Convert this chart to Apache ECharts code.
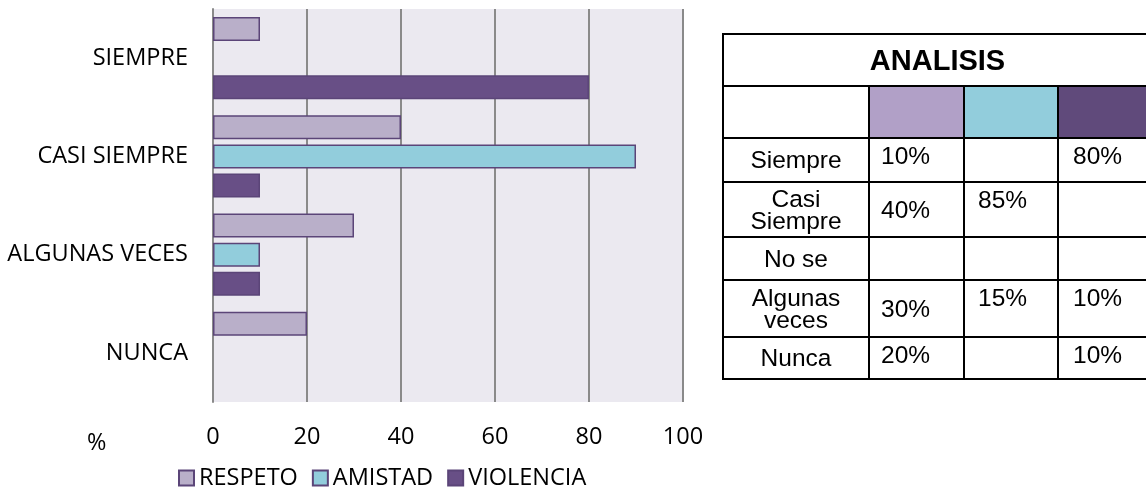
<!DOCTYPE html>
<html>
<head>
<meta charset="utf-8">
<script src="https://cdn.jsdelivr.net/npm/echarts@6/dist/echarts.min.js"></script>
<style>
  html, body { margin: 0; padding: 0; background: #fff; overflow: hidden; width: 1146px; height: 488px; }
  #chart { position: absolute; left: 0; top: 0; width: 1146px; height: 488px; }
  #tabla {
    position: absolute; left: 722px; top: 33px; width: 429px;
    border-collapse: collapse; table-layout: fixed;
    font-family: "Liberation Sans", Arial, sans-serif; font-size: 24.5px; color: #000;
  }
  #tabla td { border: 2.5px solid #000; text-align: center; padding: 0; line-height: 22px; }
  #tabla td.num { text-align: left; padding-left: 11px; }
  #tabla td.top { vertical-align: top; padding-top: 6px; }
  #tabla td.mid { vertical-align: middle; }
  #tabla th { border: 2.5px solid #000; font-size: 29px; font-weight: bold; height: 48px; }
</style>
</head>
<body>
<div id="chart"></div>
<table id="tabla"></table>
<script>
// datos del grafico
const categorias = ['SIEMPRE', 'CASI SIEMPRE', 'ALGUNAS VECES', 'NUNCA'];
const respeto = [10, 40, 30, 20];
const amistad = [0, 90, 10, 0];
const violencia = [80, 10, 10, 0];
const ticksX = [0, 20, 40, 60, 80, 100];

// datos de la tabla ANALISIS
const filasTabla = ['Siempre', 'Casi<br>Siempre', 'No se', 'Algunas<br>veces', 'Nunca'];
const colRespeto = ['10%', '40%', '', '30%', '20%'];
const colAmistad = ['', '85%', '', '15%', ''];
const colViolencia = ['80%', '', '', '10%', '10%'];
// alineacion vertical de cada celda (t = arriba, m = centro)
const alineacion = [
  ['t', 't', 't'],
  ['m', 't', 't'],
  ['m', 'm', 'm'],
  ['m', 't', 't'],
  ['t', 't', 't']
];
const alturasFilas = [44, 55, 43, 57, 42];

const borde = '#5b4578';
const fuente = '"Open Sans", sans-serif';
const tam = 23.5;

function serie(nombre, datos, color) {
  return {
    name: nombre,
    type: 'bar',
    data: datos.map(v => (v === 0 ? '-' : v)),
    barWidth: 24,
    barGap: '21%',
    itemStyle: { color: color, borderColor: borde, borderWidth: 1.5 }
  };
}

const chart = echarts.init(document.getElementById('chart'));
chart.setOption({
  animation: false,
  textStyle: { fontFamily: fuente },
  grid: {
    left: 213, top: 9, width: 470, height: 393,
    show: true, backgroundColor: '#ebe9f0', borderWidth: 0
  },
  legend: {
    left: 178, top: 466, padding: 0,
    icon: 'rect', itemWidth: 15, itemHeight: 15, itemGap: 14,
    textStyle: { fontSize: tam, color: '#000', fontFamily: fuente }
  },
  xAxis: {
    type: 'value', min: ticksX[0], max: ticksX[ticksX.length - 1], interval: 20,
    axisLine: { show: false },
    axisTick: { show: false },
    axisLabel: { fontSize: tam, color: '#000', margin: 23 },
    splitLine: { lineStyle: { color: '#8a8a8a', width: 2 } }
  },
  yAxis: {
    type: 'category', data: categorias, inverse: true,
    axisLine: { lineStyle: { color: '#8a8a8a', width: 2 } },
    axisTick: { show: false },
    axisLabel: { fontSize: tam, color: '#000', margin: 25 }
  },
  graphic: [{
    type: 'text', left: 87, top: 431,
    style: { text: '%', font: '23.5px "Open Sans", sans-serif', fill: '#000' }
  }],
  series: [
    serie('RESPETO', respeto, '#b9afc9'),
    serie('AMISTAD', amistad, '#92cddc'),
    serie('VIOLENCIA', violencia, '#684f86')
  ]
});

// tabla de analisis
const tabla = document.getElementById('tabla');
let html = '<colgroup><col style="width:146px"><col style="width:95px"><col style="width:94px"><col style="width:94px"></colgroup>';
html += '<tr><th colspan="4">ANALISIS</th></tr>';
html += '<tr style="height:52px"><td></td><td style="background:#b1a0c7"></td><td style="background:#92cddc"></td><td style="background:#604a7b"></td></tr>';
filasTabla.forEach((f, i) => {
  const cls = alineacion[i].map(a => (a === 't' ? 'num top' : 'num mid'));
  html += '<tr style="height:' + alturasFilas[i] + 'px">' +
    '<td class="mid">' + f + '</td>' +
    '<td class="' + cls[0] + '">' + colRespeto[i] + '</td>' +
    '<td class="' + cls[1] + '" style="padding-left:13px">' + colAmistad[i] + '</td>' +
    '<td class="' + cls[2] + '" style="padding-left:14px">' + colViolencia[i] + '</td></tr>';
});
tabla.innerHTML = html;
</script>
</body>
</html>
